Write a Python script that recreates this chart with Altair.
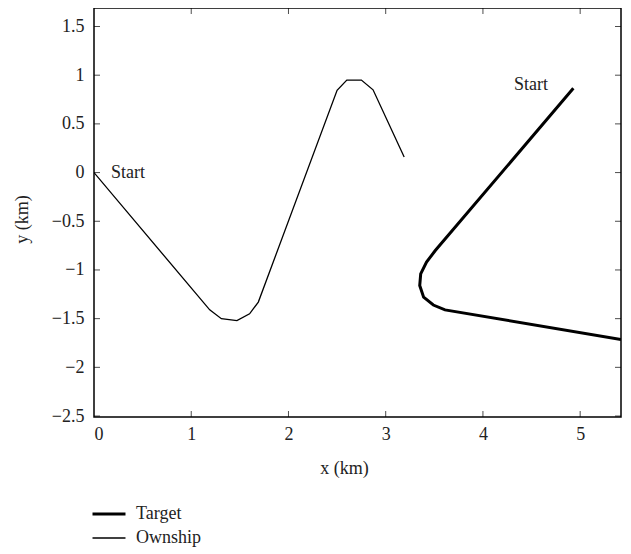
import altair as alt
import pandas as pd

# Ownship trajectory (km)
own_x = [0.0, 1.19, 1.31, 1.47, 1.60, 1.69, 2.50, 2.60, 2.75, 2.87, 3.19]
own_y = [0.0, -1.41, -1.50, -1.52, -1.45, -1.33, 0.845, 0.95, 0.95, 0.85, 0.16]

# Target trajectory (km)
tgt_x = [4.93, 3.51, 3.42, 3.36, 3.35, 3.39, 3.49, 3.61, 5.42]
tgt_y = [0.865, -0.80, -0.92, -1.04, -1.16, -1.28, -1.36, -1.41, -1.715]

series = ["Target", "Ownship"]

label_text = ["Start", "Start"]
label_x = [0.175, 4.32]
label_y = [0.0, 0.90]

x_ticks = [0, 1, 2, 3, 4, 5]
y_ticks = [-2.5, -2, -1.5, -1, -0.5, 0, 0.5, 1, 1.5]

W, H = 527, 409
FONT = "Liberation Serif"
FS = 18

rows = []
for i, (x, y) in enumerate(zip(tgt_x, tgt_y)):
    rows.append({"series": "Target", "i": i, "x": x, "y": y})
for i, (x, y) in enumerate(zip(own_x, own_y)):
    rows.append({"series": "Ownship", "i": i, "x": x, "y": y})
df = pd.DataFrame(rows)

labels_df = pd.DataFrame({"t": label_text, "x": label_x, "y": label_y})
xt_df = pd.DataFrame({"x": x_ticks[1:]})
yt_df = pd.DataFrame({"y": y_ticks})

xs = alt.Scale(domain=[0, 5.42], nice=False, zero=False)
ys = alt.Scale(domain=[-2.51, 1.69], nice=False, zero=False)

minus_expr = "replace(format(datum.value, '~g'), '-', '\u2212')"

lines = alt.Chart(df).mark_line(color="black", clip=True).encode(
    x=alt.X("x:Q", scale=xs, axis=alt.Axis(
        values=x_ticks, title="x (km)", labelExpr=minus_expr,
        domain=False, ticks=False, grid=False, labelPadding=8,
        labelFont=FONT, labelFontSize=FS, labelColor="#222",
        titleFont=FONT, titleFontSize=FS, titleFontWeight="normal", titleColor="#222",
        titleX=250, titleY=51, titleBaseline="middle", titleAlign="center")),
    y=alt.Y("y:Q", scale=ys, axis=alt.Axis(
        values=y_ticks, title="y (km)", labelExpr=minus_expr,
        domain=False, ticks=False, grid=False, labelPadding=10,
        labelFont=FONT, labelFontSize=FS, labelColor="#222",
        titleFont=FONT, titleFontSize=FS, titleFontWeight="normal", titleColor="#222",
        titleX=-72, titleY=211, titleAngle=270, titleBaseline="middle", titleAlign="center")),
    strokeWidth=alt.StrokeWidth("series:N", scale=alt.Scale(domain=series, range=[3, 1.3]),
                                legend=alt.Legend(title=None, orient="none", legendX=5, legendY=496,
                                                  symbolType="M-2,0H2", symbolSize=272,
                                                  symbolStrokeColor="black",
                                                  labelFont=FONT, labelFontSize=FS, labelColor="#222",
                                                  rowPadding=6, labelOffset=17)),
    detail="series:N",
    order="i:Q",
)

texts = alt.Chart(labels_df).mark_text(align="left", baseline="middle", font=FONT,
                                        fontSize=FS, color="#222").encode(
    x="x:Q", y="y:Q", text="t:N")

tick_top = alt.Chart(xt_df).mark_tick(orient="vertical", size=6, thickness=1, color="black").encode(
    x="x:Q", y=alt.value(3))
tick_bot = alt.Chart(xt_df).mark_tick(orient="vertical", size=6, thickness=1, color="black").encode(
    x="x:Q", y=alt.value(H - 3))
tick_left = alt.Chart(yt_df).mark_tick(orient="horizontal", size=6, thickness=1, color="black").encode(
    y="y:Q", x=alt.value(3))
tick_right = alt.Chart(yt_df).mark_tick(orient="horizontal", size=6, thickness=1, color="black").encode(
    y="y:Q", x=alt.value(W - 3))

chart = alt.layer(lines, texts, tick_top, tick_bot, tick_left, tick_right).properties(
    width=W, height=H,
    autosize=alt.AutoSizeParams(type="none"),
    padding={"left": 86, "top": 0, "right": 2, "bottom": 130},
).configure(background="white").configure_view(stroke="black", strokeWidth=1.5)

chart.save("out.html", embed_options={"renderer": "svg", "actions": False})
